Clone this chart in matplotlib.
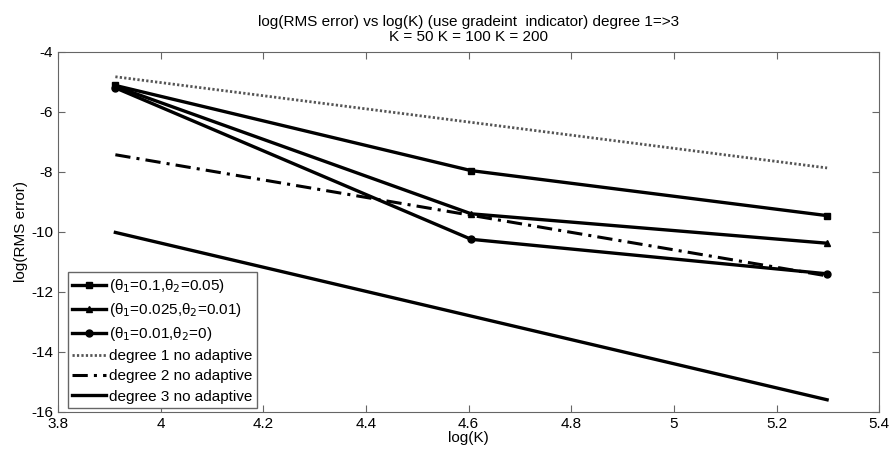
import numpy as np
import matplotlib.pyplot as plt

plt.rcParams['font.family'] = ['Liberation Sans', 'DejaVu Sans']
plt.rcParams['axes.unicode_minus'] = False

# log(K) for K = 50, 100, 200
logK = np.log([50, 100, 200])

# adaptive runs (gradient indicator)
err_a = [-5.12, -7.96, -9.46]
err_b = [-5.15, -9.40, -10.38]
err_c = [-5.20, -10.25, -11.40]

# uniform refinement, degree 1..3
deg1 = [-4.83, -7.87]
deg2 = [-7.43, -11.47]
deg3 = [-10.02, -15.60]
logK_ends = [logK[0], logK[-1]]

fig = plt.figure(figsize=(8.9, 4.55), dpi=100)
ax = fig.add_axes([0.065, 0.095, 0.923, 0.791])

ax.plot(logK, err_a, 'k-s', lw=2.4, ms=5, label='(θ$_1$=0.1,θ$_2$=0.05)')
ax.plot(logK, err_b, 'k-^', lw=2.4, ms=5, label='(θ$_1$=0.025,θ$_2$=0.01)')
ax.plot(logK, err_c, 'k-o', lw=2.4, ms=5, label='(θ$_1$=0.01,θ$_2$=0)')
ax.plot(logK_ends, deg1, color='#555555', ls=(0, (0.8, 0.8)), lw=2, label='degree 1 no adaptive')
ax.plot(logK_ends, deg2, 'k', ls=(0, (5, 2, 1, 2)), lw=2.2, label='degree 2 no adaptive')
ax.plot(logK_ends, deg3, 'k-', lw=2.4, label='degree 3 no adaptive')

ax.set_xlim(3.8, 5.4)
ax.set_ylim(-16, -4)
ax.set_xticks(np.arange(3.8, 5.41, 0.2))
ax.set_xticklabels(['3.8', '4', '4.2', '4.4', '4.6', '4.8', '5', '5.2', '5.4'])
ax.set_yticks(np.arange(-16, -3, 2))
ax.tick_params(direction='in', top=True, right=True, labelsize=11,
               length=5, color='#666666')
for s in ax.spines.values():
    s.set_color('#666666')

ax.set_xlabel('log(K)', fontsize=11, labelpad=0)
ax.set_ylabel('log(RMS error)', fontsize=11, labelpad=2)
ax.set_title('log(RMS error) vs log(K) (use gradeint  indicator) degree 1=>3\nK = 50 K = 100 K = 200',
             fontsize=11, linespacing=1.1, pad=8)

leg = ax.legend(loc='lower left', bbox_to_anchor=(0.012, 0.01), fontsize=11,
                fancybox=False, framealpha=1, edgecolor='#666666',
                handlelength=2.2, handletextpad=0.2, borderpad=0.3,
                labelspacing=0.4, borderaxespad=0)
leg.get_frame().set_linewidth(1.0)

fig.savefig('out.png', dpi=100)
